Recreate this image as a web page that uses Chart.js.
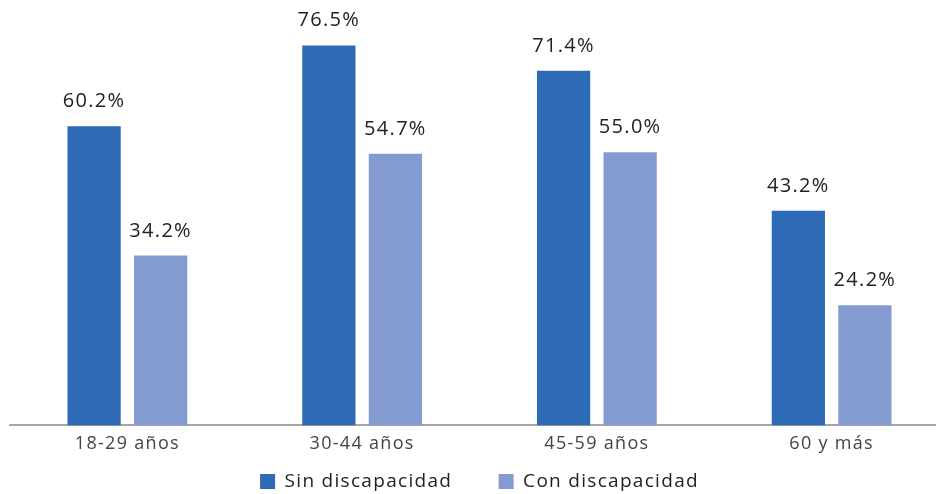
<!DOCTYPE html>
<html>
<head>
<meta charset="utf-8">
<script src="https://cdn.jsdelivr.net/npm/chart.js@4/dist/chart.umd.min.js"></script>
<style>
  html, body { margin: 0; padding: 0; background: #fff; overflow: hidden; }
  #wrap { width: 950px; height: 501px; }
</style>
</head>
<body>
<div id="wrap"><canvas id="myChart" width="950" height="501"></canvas></div>
<script>
const categories = ['18-29 años', '30-44 años', '45-59 años', '60 y más'];
const sinDiscapacidad = [60.2, 76.5, 71.4, 43.2];
const conDiscapacidad = [34.2, 54.7, 55.0, 24.2];

const FONT = "'Open Sans', sans-serif";
const SPACING = '1.3px';

// wider letter spacing for every text on the canvas
const spacing = {
    id: 'spacing',
    beforeLayout(chart) { chart.ctx.letterSpacing = SPACING; },
    beforeDraw(chart) { chart.ctx.letterSpacing = SPACING; }
};

// writes the percentage above each bar
const valueLabels = {
    id: 'valueLabels',
    afterDatasetsDraw(chart) {
        const ctx = chart.ctx;
        ctx.save();
        ctx.letterSpacing = SPACING;
        ctx.font = '20px ' + FONT;
        ctx.fillStyle = '#222';
        ctx.textAlign = 'center';
        ctx.textBaseline = 'alphabetic';
        chart.data.datasets.forEach(function (ds, i) {
            chart.getDatasetMeta(i).data.forEach(function (bar, j) {
                ctx.fillText(ds.data[j].toFixed(1) + '%', bar.x, bar.y - 19);
            });
        });
        ctx.restore();
    }
};

const data = {
    labels: categories,
    datasets: [{
        label: 'Sin discapacidad',
        data: sinDiscapacidad,
        backgroundColor: '#2E6AB5',
        barPercentage: 0.8,
        categoryPercentage: 0.567
    }, {
        label: 'Con discapacidad',
        data: conDiscapacidad,
        backgroundColor: '#849BD2',
        barPercentage: 0.8,
        categoryPercentage: 0.567
    }]
};

const config = {
    type: 'bar',
    data: data,
    plugins: [spacing, valueLabels],
    options: {
        responsive: false,
        animation: false,
        layout: { padding: { left: 10, right: 1, top: 28, bottom: 0 } },
        plugins: {
            tooltip: { enabled: false },
            legend: {
                position: 'bottom',
                labels: {
                    boxWidth: 15,
                    boxHeight: 15,
                    padding: 9,
                    color: '#222',
                    font: { family: FONT, size: 19 },
                    generateLabels(chart) {
                        const items = Chart.defaults.plugins.legend.labels.generateLabels(chart);
                        // extra room after the first entry
                        items[0].text += '      ';
                        return items;
                    }
                }
            }
        },
        scales: {
            x: {
                grid: { display: false, drawTicks: false },
                border: { color: '#a6a6a6', width: 2 },
                ticks: { color: '#444', padding: 8, font: { family: FONT, size: 18 } }
            },
            y: {
                display: false,
                min: 0,
                max: 80
            }
        }
    }
};

let myChart = new Chart(document.getElementById('myChart'), config);
</script>
</body>
</html>
